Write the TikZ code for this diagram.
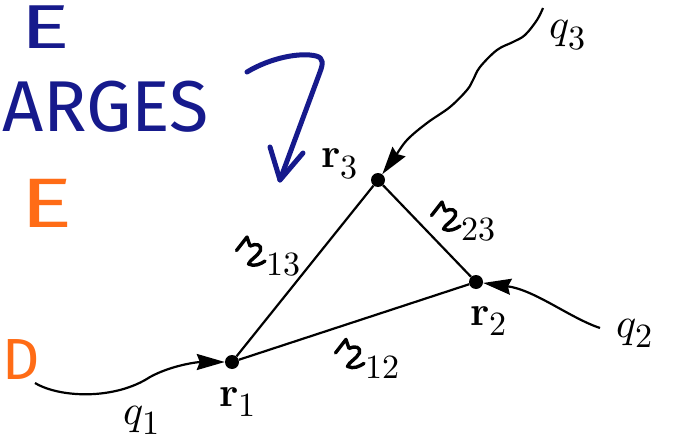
\documentclass[tikz,border=0pt]{standalone}
\usepackage{fontspec}
\usepackage{unicode-math}
\setmathfont{Latin Modern Math}
\newfontfamily\handfont{Fira Sans}
\usetikzlibrary{arrows.meta}
\DeclareMathSizes{42}{42}{34}{28}
\definecolor{penblue}{RGB}{22,26,140}
\definecolor{penorange}{RGB}{255,108,22}
% script r (separation vector)
\newcommand{\scrr}{\tikz[baseline=0pt, x=1.5pt, y=1.5pt, line width=3.4pt, line cap=round, line join=round]
	\draw (0,10) -- (7,19) -- (9,13) .. controls (13,15) and (17,14) .. (16,10) .. controls (14,6) and (9,4) .. (8,1) .. controls (12,-1) and (16,1) .. (19,3);}

\begin{document}
\begin{tikzpicture}[
		x=1pt, y=-1pt,
		% Define styles
		charge/.style={circle, fill=black, inner sep=0pt, minimum size=14pt},
		lbl/.style={inner sep=0pt, font=\fontsize{42}{46}\selectfont},
		bond/.style={line width=2.2pt},
		wiggle/.style={line width=2.2pt, -{Stealth[length=28pt, width=16pt, inset=3pt]}},
		hand/.style={inner sep=0pt, anchor=west, font=\handfont\fontsize{70}{72}\selectfont},
		pen/.style={line width=5pt, draw=penblue, line cap=round, line join=round}
		]
		
		\useasboundingbox (0,0) rectangle (675,444);
		
		% Handwritten notes
		\node (noteE) [hand, text=penblue, font=\handfont\fontsize{62}{64}\selectfont, xscale=1.5, transform shape] at (20,27) {E};
		\node (noteCharges) [hand, text=penblue, font=\handfont\fontsize{72}{74}\selectfont] at (2,107) {ARGES};
		\node (noteType) [hand, text=penorange, xscale=1.4, transform shape] at (20,203) {E};
		\node (noteD) [hand, text=penorange, font=\handfont\fontsize{58}{60}\selectfont] at (2,360) {D};
		
		% Charges
		\node (r1) [charge] at (232,362) {};
		\node (r2) [charge] at (476,282) {};
		\node (r3) [charge] at (378,180) {};
		
		% Labels
		\node (r1lbl) [lbl] at (238,402) {$\mathbf{r}_1$};
		\node (r2lbl) [lbl] at (489,321) {$\mathbf{r}_2$};
		\node (r3lbl) [lbl] at (340,164) {$\mathbf{r}_3$};
		\node (r12lbl) [lbl] at (367,358) {$\scrr_{12}$};
		\node (r13lbl) [lbl] at (268,256) {$\scrr_{13}$};
		\node (r23lbl) [lbl] at (463,221) {$\scrr_{23}$};
		\node (q1lbl) [lbl] at (142,420) {$q_1$};
		\node (q2lbl) [lbl] at (635,333) {$q_2$};
		\node (q3lbl) [lbl] at (568,35) {$q_3$};
		
		% Free ends
		\coordinate (q1s) at (35,383);
		\coordinate (q2s) at (600,328);
		\coordinate (q3s) at (543,8);
		\coordinate (hook) at (247,72);
		\coordinate (tip) at (280,180);
		
		% Triangle
		\draw [bond] (r1) -- (r2);
		\draw [bond] (r2) -- (r3);
		\draw [bond] (r3) -- (r1);
		
		% Incoming paths
		\draw [wiggle] (q1s) .. controls (60,398) and (115,400) .. (150,377) .. controls (172,365) and (198,362) .. (r1);
		\draw [wiggle] (q2s) .. controls (570,318) and (535,290) .. (r2);
		\draw [wiggle] plot[smooth, tension=0.6] coordinates {(q3s) (537,20) (525,35) (513,42) (497,50) (480,67) (473,80) (467,90) (450,107) (427,123) (407,140) (395,157)} -- (r3);
		
		% Blue arrow
		\draw [pen] (hook) .. controls (270,58) and (300,52) .. (316,56) .. controls (324,58) and (323,64) .. (320,72) -- (tip);
		\draw [pen] (270,147) -- (tip) -- (303,153);
		
	\end{tikzpicture}
\end{document}
